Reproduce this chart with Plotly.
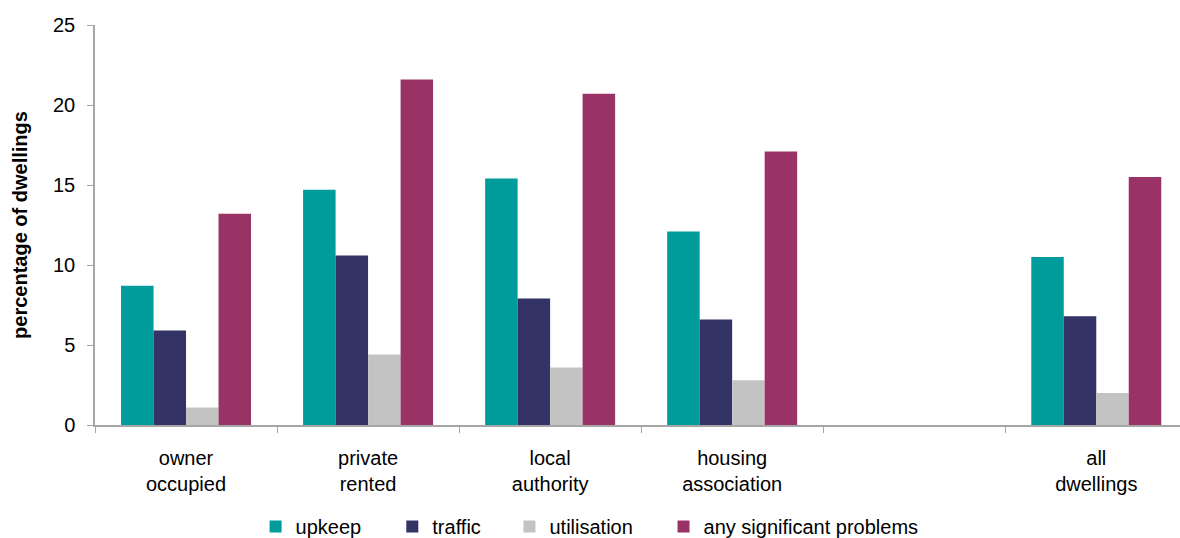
import plotly.graph_objects as go

# Tenure groups (a blank slot separates the tenures from the overall total)
categories = ["owner<br>occupied", "private<br>rented", "local<br>authority",
              "housing<br>association", " ", "all<br>dwellings"]

series_names = ["upkeep", "traffic", "utilisation", "any significant problems"]
upkeep = [8.7, 14.7, 15.4, 12.1, None, 10.5]
traffic = [5.9, 10.6, 7.9, 6.6, None, 6.8]
utilisation = [1.1, 4.4, 3.6, 2.8, None, 2.0]
any_problems = [13.2, 21.6, 20.7, 17.1, None, 15.5]

colors = ["#009B9B", "#333366", "#C3C3C3", "#993366"]
legend_x = [0.148, 0.274, 0.382, 0.524]

FONT = "Liberation Sans, Arial, sans-serif"

fig = go.Figure()
for i, (name, vals) in enumerate(zip(series_names,
                                     [upkeep, traffic, utilisation, any_problems])):
    fig.add_trace(go.Bar(
        x=categories, y=vals, name=name,
        marker=dict(color=colors[i], line=dict(width=0)),
        legend="legend" if i == 0 else f"legend{i + 1}",
    ))

legend_common = dict(orientation="h", yanchor="top", y=-0.205, xanchor="left",
                     font=dict(family=FONT, size=20, color="#000000"),
                     bgcolor="rgba(0,0,0,0)", itemwidth=30, tracegroupgap=0)

fig.update_layout(
    width=1180, height=538,
    margin=dict(l=95, r=0, t=25, b=113, autoexpand=False),
    paper_bgcolor="white", plot_bgcolor="white",
    barmode="group", bargap=0.286, bargroupgap=0,
    font=dict(family=FONT, size=20, color="#000000"),
    showlegend=True,
    legend=dict(x=legend_x[0], **legend_common),
    legend2=dict(x=legend_x[1], **legend_common),
    legend3=dict(x=legend_x[2], **legend_common),
    legend4=dict(x=legend_x[3], **legend_common),
)

fig.update_xaxes(
    type="category", range=[-0.5, 5.46],
    showline=True, linecolor="#A6A6A6", linewidth=1.5,
    ticks="outside", tickson="boundaries", ticklen=6, tickcolor="#A6A6A6",
    showgrid=False, zeroline=False, ticklabelstandoff=14,
    tickfont=dict(family=FONT, size=20, color="#000000"),
)

fig.update_yaxes(
    range=[0, 25], tickvals=[0, 5, 10, 15, 20, 25],
    showline=True, linecolor="#A6A6A6", linewidth=1.5,
    ticks="outside", ticklen=6, tickcolor="#A6A6A6",
    showgrid=False, zeroline=False, ticklabelstandoff=8,
    tickfont=dict(family=FONT, size=20, color="#000000"),
    title=dict(text="<b>percentage of dwellings</b>",
               font=dict(family=FONT, size=20, color="#000000"),
               standoff=20),
)

fig.write_html("out.html")
